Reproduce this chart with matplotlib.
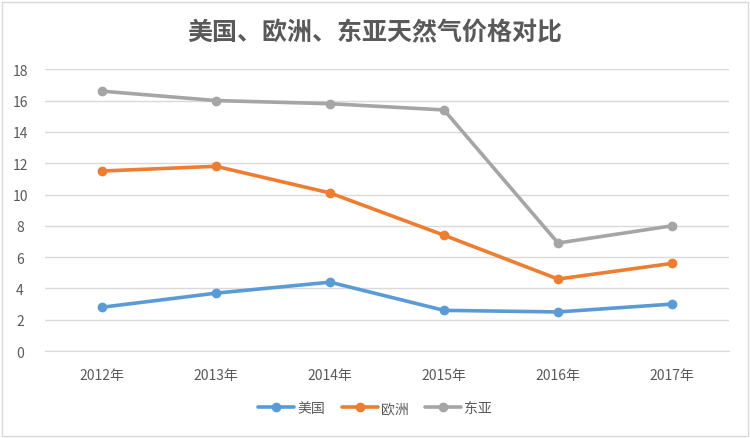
import matplotlib
matplotlib.use("Agg")
import matplotlib.pyplot as plt
from matplotlib.patches import Rectangle

plt.rcParams['font.family'] = ['Noto Sans CJK SC', 'DejaVu Sans']

years = ['2012年', '2013年', '2014年', '2015年', '2016年', '2017年']
us = [2.8, 3.7, 4.4, 2.6, 2.5, 3.0]
europe = [11.5, 11.8, 10.1, 7.4, 4.6, 5.6]
east_asia = [16.6, 16.0, 15.8, 15.4, 6.9, 8.0]
series_names = ['美国', '欧洲', '东亚']
title = '美国、欧洲、东亚天然气价格对比'

colors = ['#5B9BD5', '#ED7D31', '#A5A5A5']
text_color = '#595959'

fig = plt.figure(figsize=(7.5, 4.39), dpi=100)
ax = fig.add_axes([0.06, 0.198, 0.912, 0.642])

x = list(range(len(years)))
for vals, name, c in zip([us, europe, east_asia], series_names, colors):
    ax.plot(x, vals, color=c, lw=2.6, marker='o', markersize=6, label=name,
            solid_capstyle='round', zorder=3)

ax.set_xlim(-0.5, len(years) - 0.5)
ax.set_ylim(0, 18)
ax.set_yticks(range(0, 19, 2))
ax.set_xticks(x)
ax.set_xticklabels(years)
ax.grid(axis='y', color='#D9D9D9', lw=1)
ax.set_axisbelow(True)
for s in ['top', 'right', 'left']:
    ax.spines[s].set_visible(False)
ax.spines['bottom'].set_color('#D9D9D9')
ax.tick_params(axis='both', length=0, colors=text_color, labelsize=10)
ax.tick_params(axis='x', pad=12)
ax.tick_params(axis='y', pad=18)
for lbl in ax.get_yticklabels():
    lbl.set_horizontalalignment('center')

fig.text(0.5, 0.925, title, ha='center', va='center', fontsize=18,
         color=text_color, fontweight='bold')

leg = fig.legend(loc='center', bbox_to_anchor=(0.5, 0.068), ncol=3, frameon=False,
                 fontsize=10, handlelength=2.6, columnspacing=1.2, handletextpad=0.2)
for t in leg.get_texts():
    t.set_color(text_color)

fig.patches.append(Rectangle((0.003, 0.004), 0.994, 0.99, transform=fig.transFigure,
                             fill=False, edgecolor='#D9D9D9', lw=1))

fig.savefig('out.png', dpi=100)
